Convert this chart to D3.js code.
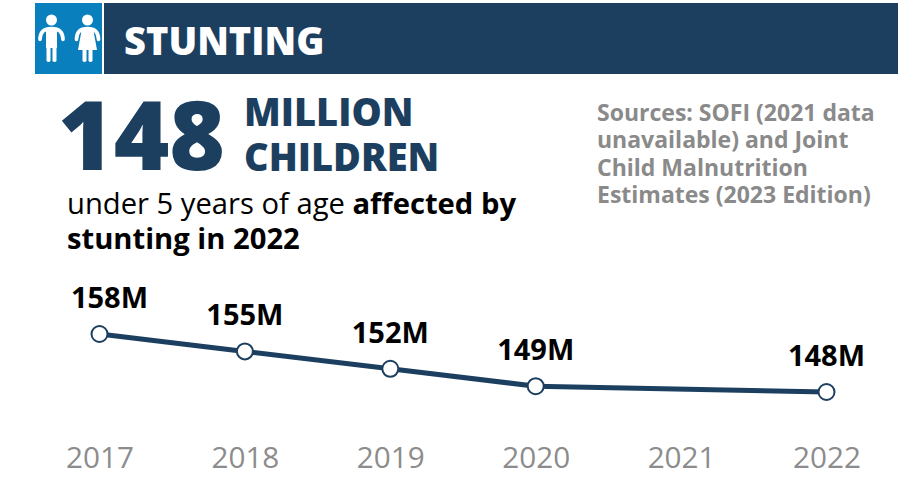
<!DOCTYPE html>
<html>
<head>
<meta charset="utf-8">
<script src="https://cdn.jsdelivr.net/npm/d3@7"></script>
<style>
  html, body { margin: 0; padding: 0; background: #fff; }
  svg { display: block; }
  text { font-family: "Open Sans", sans-serif; }
</style>
</head>
<body>
<svg id="chart" width="898" height="499"></svg>
<script>
var years = [2017, 2018, 2019, 2020, 2022];
var stunted = [158, 155, 152, 149, 148];
var tickYears = [2017, 2018, 2019, 2020, 2021, 2022];
var sourceLines = ["Sources: SOFI (2021 data", "unavailable) and Joint", "Child Malnutrition", "Estimates (2023 Edition)"];

var navy = "#1c3f60";
var svg = d3.select("#chart");

var x = d3.scaleLinear().domain([2017, 2022]).range([99.5, 826.5]);
var y = d3.scaleLinear().domain([148, 158]).range([392, 334]);

// header
svg.append("rect").attr("x", 35).attr("y", 3).attr("width", 67).attr("height", 71).attr("fill", "#0a7fbd");
svg.append("rect").attr("x", 104).attr("y", 3).attr("width", 794).attr("height", 71).attr("fill", navy);
svg.append("text").attr("x", 124).attr("y", 55).attr("fill", "#fff")
  .attr("font-size", 38).attr("font-weight", 800).text("STUNTING");

// boy and girl icons
var icons = svg.append("g").attr("fill", "#fff");
icons.append("circle").attr("cx", 51.5).attr("cy", 20).attr("r", 5.5);
icons.append("path").attr("fill", "none").attr("stroke", "#fff").attr("stroke-width", 3.6).attr("stroke-linecap", "round")
  .attr("d", "M40 39.5 C40 33 43 28.5 51.5 28.5 C60 28.5 63 33 63 39.5");
icons.append("rect").attr("x", 46).attr("y", 28).attr("width", 11).attr("height", 20);
icons.append("rect").attr("x", 46.5).attr("y", 45).attr("width", 4).attr("height", 17).attr("rx", 1.8);
icons.append("rect").attr("x", 52.5).attr("y", 45).attr("width", 4).attr("height", 17).attr("rx", 1.8);
icons.append("circle").attr("cx", 87.5).attr("cy", 20).attr("r", 5.5);
icons.append("path").attr("fill", "none").attr("stroke", "#fff").attr("stroke-width", 3.6).attr("stroke-linecap", "round")
  .attr("d", "M76.5 39.5 C76.5 33 79.5 28.5 87.5 28.5 C95.5 28.5 98.5 33 98.5 39.5");
icons.append("path").attr("d", "M82 28 L93 28 L97 50 L78 50 Z");
icons.append("rect").attr("x", 82.5).attr("y", 48).attr("width", 4).attr("height", 14).attr("rx", 1.8);
icons.append("rect").attr("x", 88.5).attr("y", 48).attr("width", 4).attr("height", 14).attr("rx", 1.8);

// headline
svg.append("text").attr("x", 58).attr("y", 170).attr("fill", navy)
  .attr("font-size", 95).attr("font-weight", 800).text("148");
svg.append("text").attr("x", 244).attr("y", 126).attr("fill", navy)
  .attr("font-size", 38).attr("font-weight", 800).text("MILLION");
svg.append("text").attr("x", 244).attr("y", 171).attr("fill", navy)
  .attr("font-size", 38).attr("font-weight", 800).text("CHILDREN");

var sub = svg.append("text").attr("x", 67).attr("y", 214).attr("fill", "#000").attr("font-size", 29.2);
sub.append("tspan").text("under 5 years of age ");
sub.append("tspan").attr("font-weight", 700).text("affected by");
svg.append("text").attr("x", 67).attr("y", 249).attr("fill", "#000")
  .attr("font-size", 29.2).attr("font-weight", 700).text("stunting in 2022");

// sources note
svg.selectAll(".source").data(sourceLines).enter().append("text")
  .attr("class", "source").attr("x", 597)
  .attr("y", function(d, i) { return 121 + i * 27.3; })
  .attr("fill", "#8a8a8a").attr("font-size", 23).attr("font-weight", 700)
  .text(function(d) { return d; });

// line
var line = d3.line()
  .x(function(d, i) { return x(years[i]); })
  .y(function(d) { return y(d); });
svg.append("path").datum(stunted).attr("d", line)
  .attr("fill", "none").attr("stroke", navy).attr("stroke-width", 5);

svg.selectAll(".pt").data(stunted).enter().append("circle")
  .attr("class", "pt")
  .attr("cx", function(d, i) { return x(years[i]); })
  .attr("cy", function(d) { return y(d); })
  .attr("r", 8).attr("fill", "#fff").attr("stroke", navy).attr("stroke-width", 2);

// first label sits a bit right of its point, the rest are centred
svg.selectAll(".val").data(stunted).enter().append("text")
  .attr("class", "val")
  .attr("x", function(d, i) { return x(years[i]) + (i === 0 ? 10 : 0); })
  .attr("y", function(d) { return y(d) - 26; })
  .attr("text-anchor", "middle").attr("fill", "#000")
  .attr("font-size", 29).attr("font-weight", 700)
  .text(function(d) { return d + "M"; });

// year axis
var axis = d3.axisBottom(x).tickValues(tickYears).tickFormat(d3.format("d")).tickSize(0);
var axisG = svg.append("g").attr("transform", "translate(0,444)").call(axis);
axisG.select(".domain").remove();
axisG.selectAll("text").attr("fill", "#8c8c8c").attr("font-size", 29.7)
  .style("font-family", "'Open Sans', sans-serif");
</script>
</body>
</html>
